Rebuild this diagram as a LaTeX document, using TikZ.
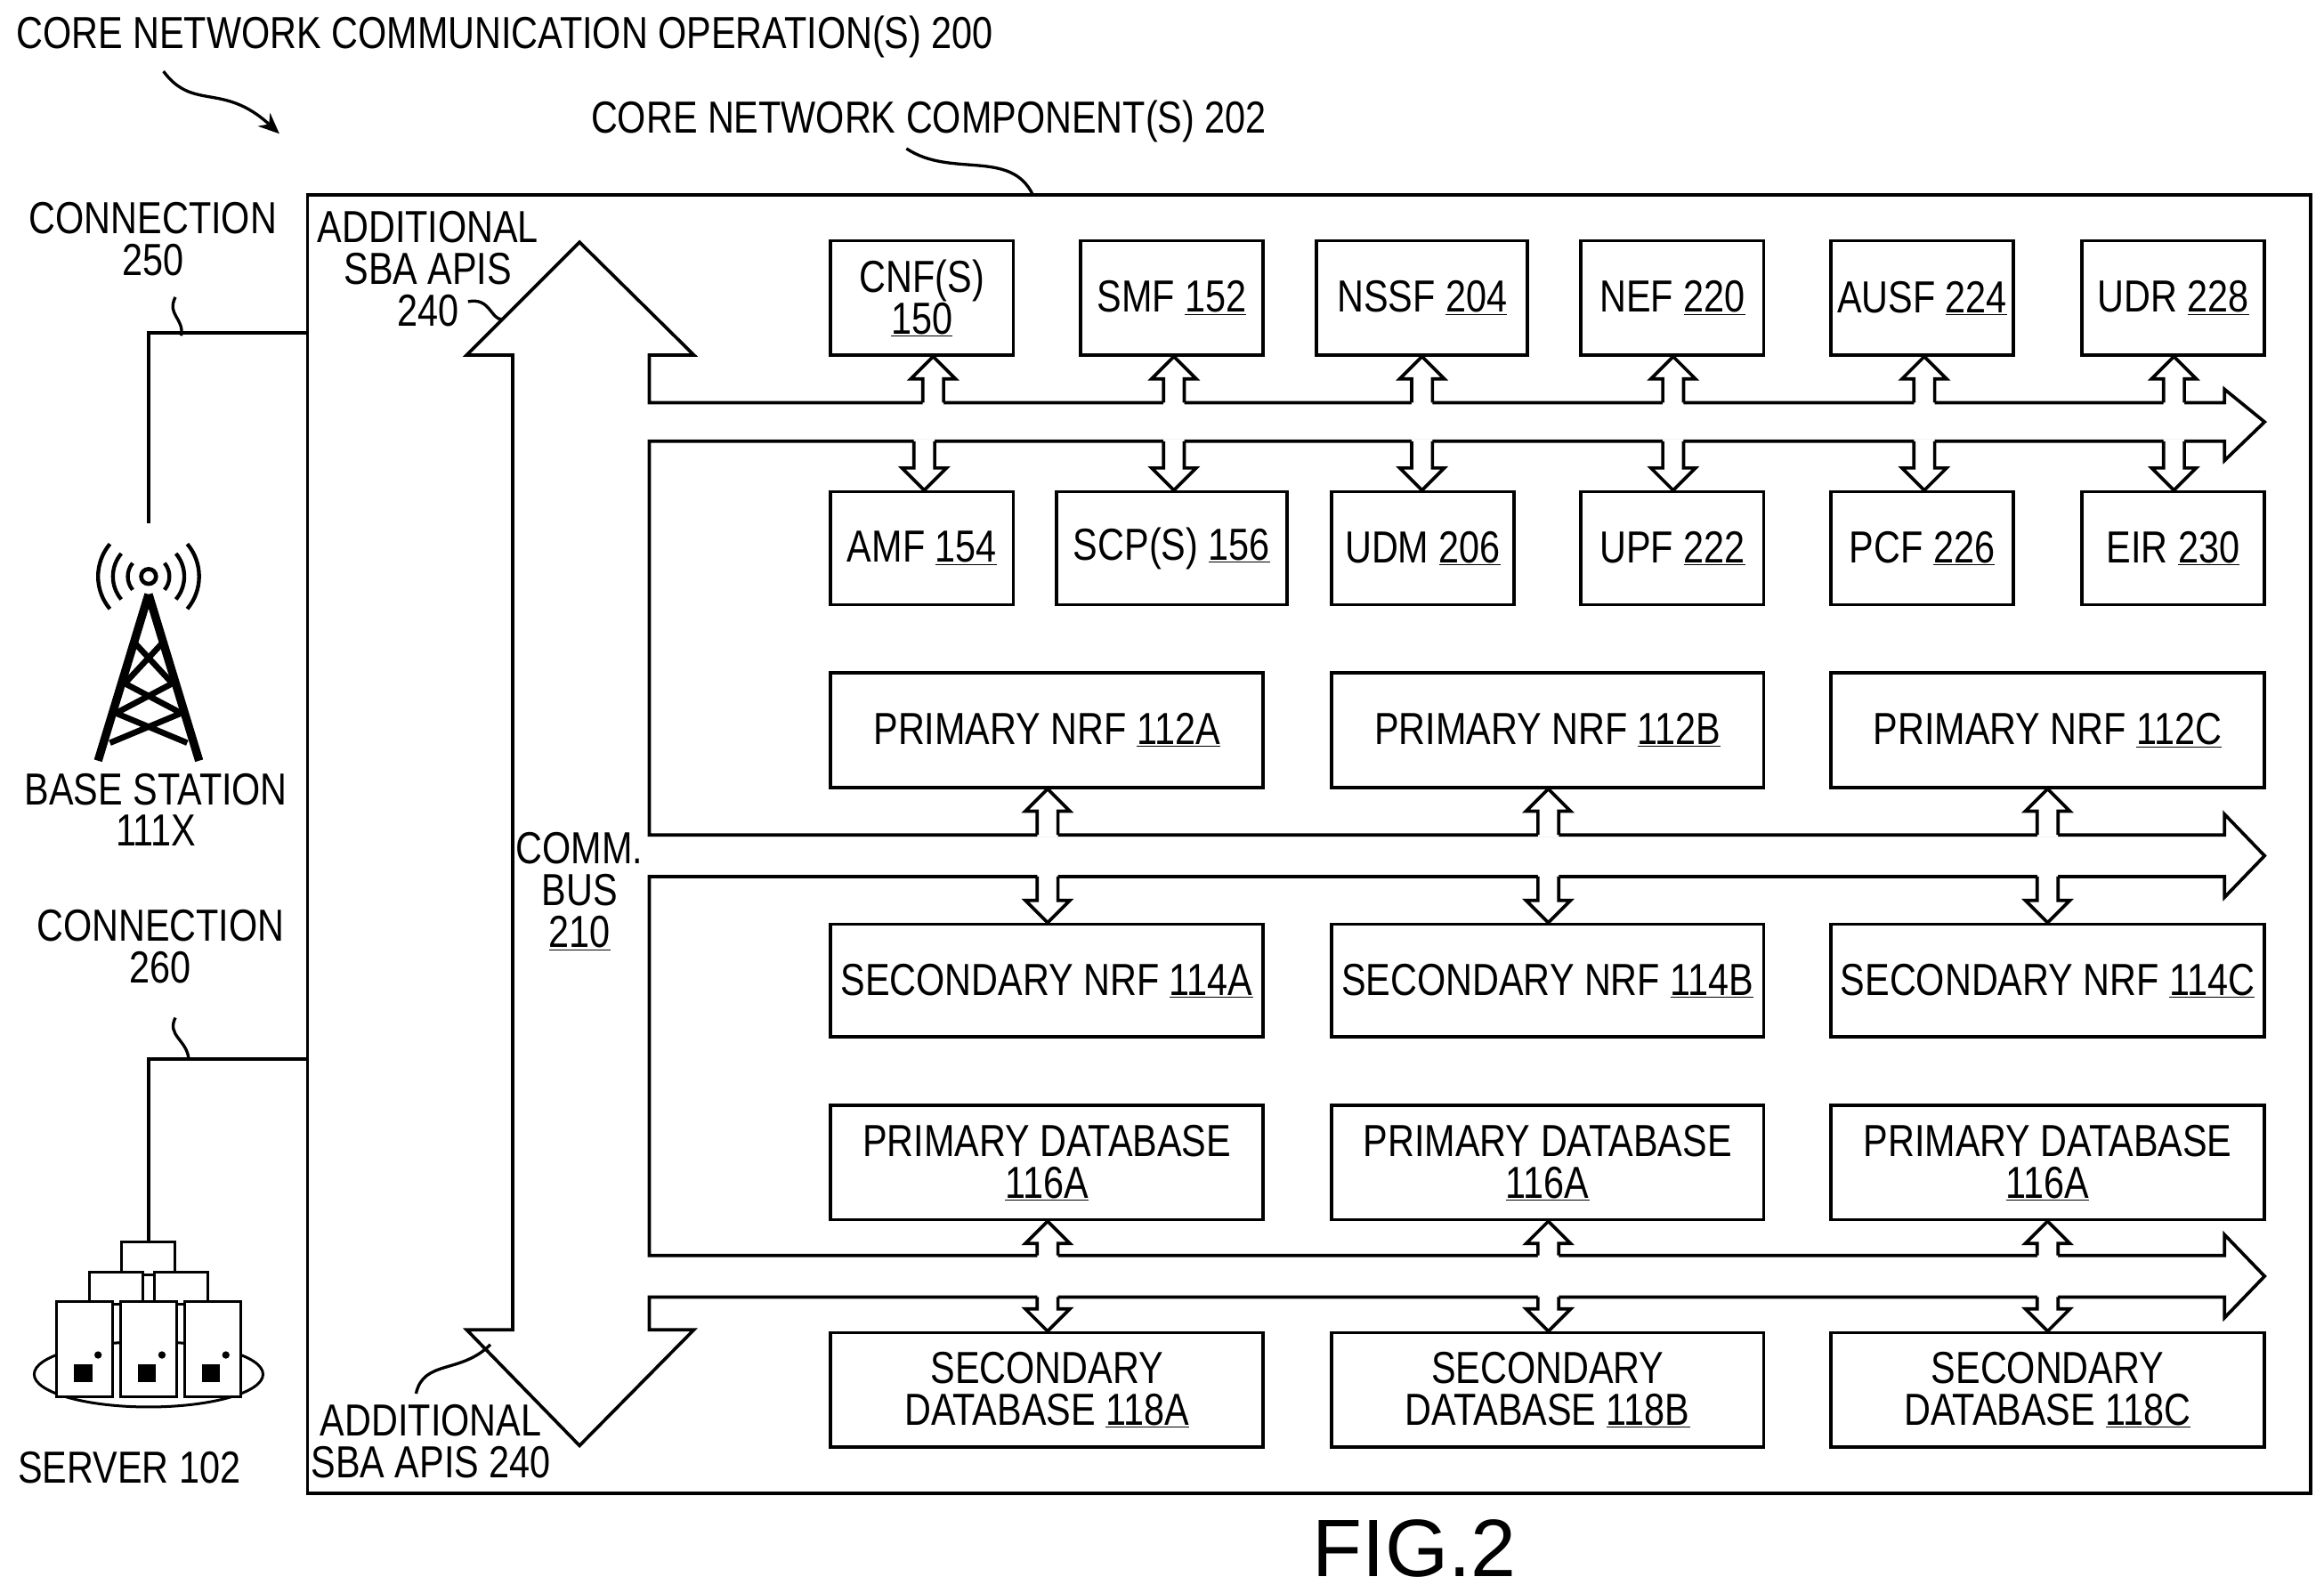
\documentclass[tikz,border=0pt]{standalone}
\usepackage{fontspec}
\usetikzlibrary{arrows.meta}
\setmainfont{Liberation Sans}[FakeStretch=0.82]
\newfontfamily\figfont{Liberation Sans}
\begin{document}
\begin{tikzpicture}[x=0.05cm,y=-0.05cm,line width=0.11cm,
  box/.style={draw,inner sep=0pt,align=center,font=\fontsize{43}{40}\selectfont},
  lbl/.style={inner sep=0pt,align=center,font=\fontsize{43}{40}\selectfont},
  sq/.style={line width=0.1cm,rounded corners=0.3cm}]
\useasboundingbox (0,0) rectangle (1564,1072);
\newcommand{\bx}[6]{\node[box,minimum width={(#4-#2)*0.05cm},minimum height={(#5-#3)*0.05cm}] (#1) at ({(#2+#4)/2},{(#3+#5)/2}) {#6};}
\newcommand{\uparr}[3]{% cx, base(bus top), tip
 \fill[white] (#1-7,#2+1.5)--(#1-7,#3+15)--(#1-15,#3+15)--(#1,#3)--(#1+15,#3+15)--(#1+7,#3+15)--(#1+7,#2+1.5)--cycle;
 \draw[line join=miter] (#1-7,#2)--(#1-7,#3+15)--(#1-15,#3+15)--(#1,#3)--(#1+15,#3+15)--(#1+7,#3+15)--(#1+7,#2);}
\newcommand{\dnarr}[3]{%
 \fill[white] (#1-7,#2-1.5)--(#1-7,#3-15)--(#1-15,#3-15)--(#1,#3)--(#1+15,#3-15)--(#1+7,#3-15)--(#1+7,#2-1.5)--cycle;
 \draw[line join=miter] (#1-7,#2)--(#1-7,#3-15)--(#1-15,#3-15)--(#1,#3)--(#1+15,#3-15)--(#1+7,#3-15)--(#1+7,#2);}
% outer
\draw (207,131) rectangle (1555,1005);
% bus
\draw[line join=miter] (345,239)--(314,239)--(390,163)--(467,239)--(437,239)--(437,271)--(1497,271)--(1497,262)--(1524,284)--(1497,310)--(1497,297)--(437,297)--(437,562)--(1497,562)--(1497,548)--(1524,576)--(1497,604)--(1497,590)--(437,590)--(437,845)--(1497,845)--(1497,831)--(1524,859)--(1497,887)--(1497,873)--(437,873)--(437,895)--(467,895)--(390,973)--(314,895)--(345,895)--cycle;
% boxes
\bx{cnf}{559}{162}{682}{239}{CNF(S)\\\underline{150}}
\bx{smf}{727}{162}{850}{239}{SMF \underline{152}}
\bx{nssf}{886}{162}{1028}{239}{NSSF \underline{204}}
\bx{nef}{1064}{162}{1187}{239}{NEF \underline{220}}
\bx{ausf}{1232}{162}{1355}{239}{AUSF \underline{224}}
\bx{udr}{1401}{162}{1524}{239}{UDR \underline{228}}
\bx{amf}{559}{331}{682}{407}{AMF \underline{154}}
\bx{scp}{711}{331}{866}{407}{SCP(S) \underline{156}}
\bx{udm}{896}{331}{1019}{407}{UDM \underline{206}}
\bx{upf}{1064}{331}{1187}{407}{UPF \underline{222}}
\bx{pcf}{1232}{331}{1355}{407}{PCF \underline{226}}
\bx{eir}{1401}{331}{1524}{407}{EIR \underline{230}}
\bx{pa}{559}{453}{850}{530}{PRIMARY NRF \underline{112A}}
\bx{pb}{896}{453}{1187}{530}{PRIMARY NRF \underline{112B}}
\bx{pc}{1232}{453}{1524}{530}{PRIMARY NRF \underline{112C}}
\bx{sa}{559}{622}{850}{698}{SECONDARY NRF \underline{114A}}
\bx{sb}{896}{622}{1187}{698}{SECONDARY NRF \underline{114B}}
\bx{sc}{1232}{622}{1524}{698}{SECONDARY NRF \underline{114C}}
\bx{da}{559}{744}{850}{821}{PRIMARY DATABASE\\\underline{116A}}
\bx{db}{896}{744}{1187}{821}{PRIMARY DATABASE\\\underline{116A}}
\bx{dc}{1232}{744}{1524}{821}{PRIMARY DATABASE\\\underline{116A}}
\bx{ea}{559}{897}{850}{974}{SECONDARY\\DATABASE \underline{118A}}
\bx{eb}{896}{897}{1187}{974}{SECONDARY\\DATABASE \underline{118B}}
\bx{ec}{1232}{897}{1524}{974}{SECONDARY\\DATABASE \underline{118C}}
% arrows
\foreach \c in {628,790,957,1126,1295,1463}{\uparr{\c}{271}{240}}
\foreach \c in {622,790,957,1126,1295,1463}{\dnarr{\c}{297}{330}}
\foreach \c in {705,1042,1378}{\uparr{\c}{562}{531}\dnarr{\c}{590}{621}\uparr{\c}{845}{822}\dnarr{\c}{873}{896}}
% labels
\node[lbl,anchor=west] (t200) at (10,25) {CORE NETWORK COMMUNICATION OPERATION(S) 200};
\draw[sq,-{Stealth[length=0.7cm,width=0.6cm]}] (110,48) .. controls (130,75) and (150,55) .. (188,90);
\node[lbl] (t202) at (625,82) {CORE NETWORK COMPONENT(S) 202};
\draw[sq] (610,100) .. controls (640,120) and (680,100) .. (695,131);
\node[lbl] (a240) at (288,181) {ADDITIONAL\\SBA APIS\\240};
\draw[sq] (315,203) .. controls (330,200) and (330,215) .. (338,215);
\node[lbl] (b240) at (290,970) {ADDITIONAL\\SBA APIS 240};
\draw[sq] (280,938) .. controls (285,915) and (310,925) .. (330,905);
\node[lbl] (bus) at (390,600) {COMM.\\BUS\\\underline{210}};
\node[lbl] (c250) at (103,161) {CONNECTION\\250};
\node[lbl] (c260) at (108,637) {CONNECTION\\260};
\node[lbl] (bs) at (105,545) {BASE STATION\\111X};
\node[lbl] (srv) at (87,988) {SERVER 102};
\node[inner sep=0pt,font=\figfont\fontsize{78}{78}\selectfont] (fig) at (952,1042) {FIG.2};
% connections
\draw (207,224)--(100,224)--(100,352);
\draw[sq] (118,200) .. controls (112,212) and (124,214) .. (122,226);
\draw (207,713)--(100,713)--(100,836);
\draw[sq] (118,685) .. controls (112,697) and (126,700) .. (127,713);
% tower
\begin{scope}[line width=0.28cm]
\draw (100,400)--(66,512) (100,400)--(134,512);
\draw[line width=0.2cm] (90,432)--(116,460)--(78,480)--(126,500) (110,432)--(84,460)--(122,480)--(74,500);
\end{scope}
\draw[line width=0.14cm] (100,388) circle (5);
\foreach \r in {14,24,34}{\draw[line width=0.13cm] (100,388) ++(140:\r) arc (140:220:\r);
 \draw[line width=0.13cm] (100,388) ++(40:\r) arc (40:-40:\r);}
% server
\draw[line width=0.09cm] (100,925) ellipse (77 and 22);
\foreach \a/\b/\c/\d in {82/836/118/858,60/856/96/878,104/856/140/878}{\draw[fill=white,line width=0.09cm] (\a,\b) rectangle (\c,\d);}
\foreach \a in {38,81,124}{\draw[fill=white,line width=0.09cm] (\a,876) rectangle (\a+38,940);
 \fill (\a+12,918) rectangle (\a+24,930); \fill (\a+28,912) circle (2.5);}
\end{tikzpicture}
\end{document}
